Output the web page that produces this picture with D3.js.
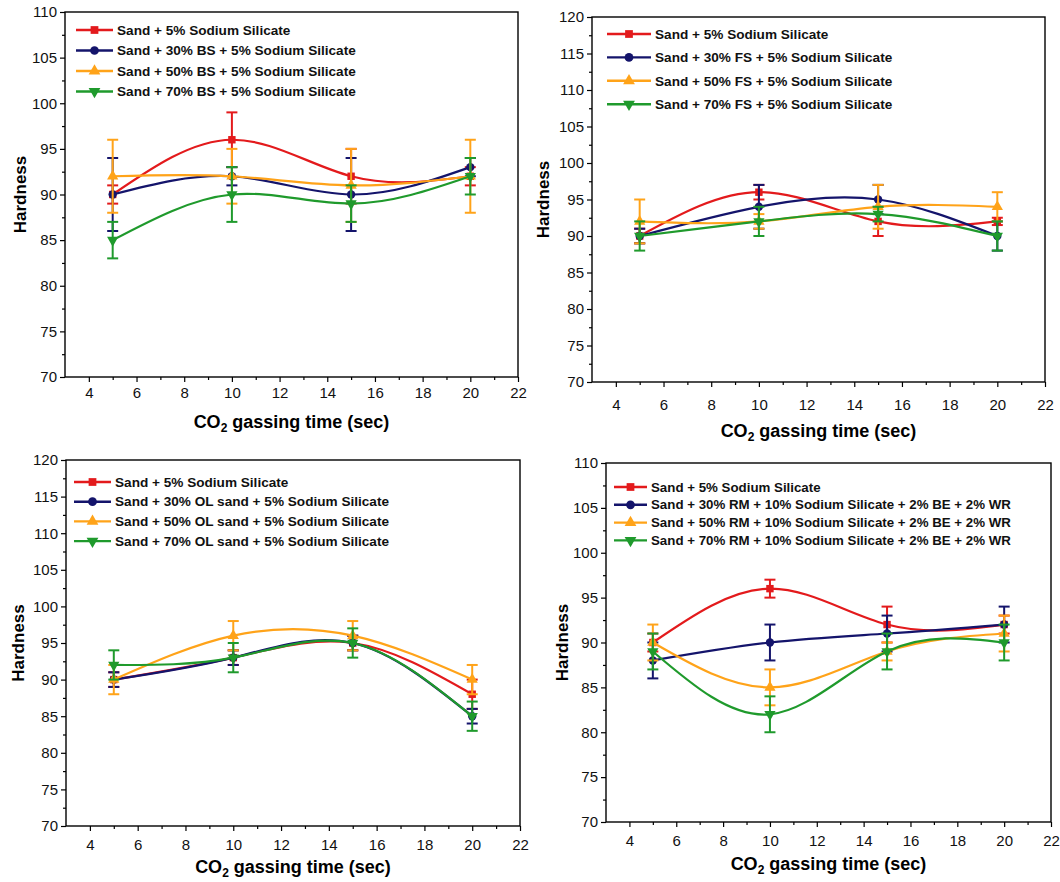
<!DOCTYPE html>
<html lang="en">
<head>
    <meta charset="UTF-8">
    <title>Hardness vs CO2 gassing time</title>
    <script src="https://d3js.org/d3.v7.min.js"></script>
    <style>
        body { margin: 0; background: #fff; }
        svg { font-family: "Liberation Sans", Arial, sans-serif; }
        .tick text { font-size: 15px; }
    </style>
</head>
<body>
    <svg id="chart" width="1060" height="882"></svg>

    <script>
        // gassing times (sec)
        const times = [5, 10, 15, 20];

        // series colours / markers (red, blue, orange, green)
        const colors = ["#e31a1c", "#14146b", "#ffa319", "#1f9a2c"];
        const markers = ["square", "circle", "triangleUp", "triangleDown"];

        // BS panel
        const bsLegend = ["Sand + 5% Sodium Silicate", "Sand + 30% BS + 5% Sodium Silicate",
            "Sand + 50% BS + 5% Sodium Silicate", "Sand + 70% BS + 5% Sodium Silicate"];
        const bsHardness = [[90, 96, 92, 92], [90, 92, 90, 93], [92, 92, 91, 92], [85, 90, 89, 92]];
        const bsError = [[1, 3, 3, 1], [4, 1, 4, 1], [4, 3, 4, 4], [2, 3, 2, 2]];

        // FS panel
        const fsLegend = ["Sand + 5% Sodium Silicate", "Sand + 30% FS + 5% Sodium Silicate",
            "Sand + 50% FS + 5% Sodium Silicate", "Sand + 70% FS + 5% Sodium Silicate"];
        const fsHardness = [[90, 96, 92, 92], [90, 94, 95, 90], [92, 92, 94, 94], [90, 92, 93, 90]];
        const fsError = [[1, 1, 2, 0.5], [1, 3, 2, 2], [3, 1, 3, 2], [2, 2, 1, 2]];

        // OL sand panel
        const olLegend = ["Sand + 5% Sodium Silicate", "Sand + 30% OL sand + 5% Sodium Silicate",
            "Sand + 50% OL sand + 5% Sodium Silicate", "Sand + 70% OL sand + 5% Sodium Silicate"];
        const olHardness = [[90, 93, 95, 88], [90, 93, 95, 85], [90, 96, 96, 90], [92, 93, 95, 85]];
        const olError = [[1, 1, 1, 2], [1, 1, 1, 1], [2, 2, 2, 2], [2, 2, 2, 2]];

        // RM panel
        const rmLegend = ["Sand + 5% Sodium Silicate",
            "Sand + 30% RM + 10% Sodium Silicate + 2% BE + 2% WR",
            "Sand + 50% RM + 10% Sodium Silicate + 2% BE + 2% WR",
            "Sand + 70% RM + 10% Sodium Silicate + 2% BE + 2% WR"];
        const rmHardness = [[90, 96, 92, 92], [88, 90, 91, 92], [90, 85, 89, 91], [89, 82, 89, 90]];
        const rmError = [[1, 1, 2, 1], [2, 2, 2, 2], [2, 2, 1, 2], [2, 2, 2, 2]];

        const xTicks = d3.range(4, 23, 2);
        const xMinor = d3.range(5, 22, 2);

        const svg = d3.select("#chart");

        const symbolFor = {
            square: d3.symbolSquare,
            circle: d3.symbolCircle,
            triangleUp: d3.symbolTriangle,
            triangleDown: d3.symbolTriangle
        };

        function marker(g, type, x, y, color, size) {
            g.append("path")
                .attr("d", d3.symbol().type(symbolFor[type]).size(size)())
                .attr("transform", "translate(" + x + "," + y + ")" + (type === "triangleDown" ? " rotate(180)" : ""))
                .attr("fill", color);
        }

        function panel(cfg) {
            const g = svg.append("g");
            const x = d3.scaleLinear().domain([3, 22]).range([cfg.left, cfg.right]);
            const y = d3.scaleLinear().domain([70, cfg.yMax]).range([cfg.bottom, cfg.top]);
            const yMajor = d3.range(70, cfg.yMax + 1, 5);
            const yMinor = d3.range(72.5, cfg.yMax, 5);

            // axes
            g.append("g").attr("transform", "translate(0," + cfg.bottom + ")")
                .call(d3.axisBottom(x).tickValues(xMinor).tickFormat("").tickSize(3).tickSizeOuter(0));
            g.append("g").attr("transform", "translate(0," + cfg.bottom + ")")
                .call(d3.axisBottom(x).tickValues(xTicks).tickSize(5).tickPadding(cfg.xPad).tickSizeOuter(0));
            g.append("g").attr("transform", "translate(" + cfg.left + ",0)")
                .call(d3.axisLeft(y).tickValues(yMinor).tickFormat("").tickSize(3).tickSizeOuter(0));
            g.append("g").attr("transform", "translate(" + cfg.left + ",0)")
                .call(d3.axisLeft(y).tickValues(yMajor).tickSize(5).tickPadding(3).tickSizeOuter(0));
            g.selectAll(".domain").remove();
            g.selectAll(".tick line").attr("stroke", "#000").attr("stroke-width", 1.2);
            g.selectAll(".tick text").attr("fill", "#111");

            // frame
            g.append("rect")
                .attr("x", cfg.left).attr("y", cfg.top)
                .attr("width", cfg.right - cfg.left).attr("height", cfg.bottom - cfg.top)
                .attr("fill", "none").attr("stroke", "#000").attr("stroke-width", 1.4);

            // titles
            g.append("text")
                .attr("transform", "translate(" + cfg.yTitleX + "," + (cfg.top + cfg.bottom) / 2 + ") rotate(-90)")
                .attr("text-anchor", "middle").attr("dy", "0.35em")
                .attr("font-size", 17).attr("font-weight", "bold")
                .text("Hardness");
            const xt = g.append("text")
                .attr("x", (cfg.left + cfg.right) / 2).attr("y", cfg.xTitleY)
                .attr("text-anchor", "middle")
                .attr("font-size", 18).attr("font-weight", "bold");
            xt.append("tspan").text("CO");
            xt.append("tspan").attr("font-size", 12).attr("dy", 4).text("2");
            xt.append("tspan").attr("dy", -4).text(" gassing time (sec)");

            // series
            const line = d3.line()
                .x((d, i) => x(times[i]))
                .y(d => y(d))
                .curve(d3.curveNatural);

            cfg.values.forEach((vals, s) => {
                const c = colors[s];
                const sg = g.append("g");
                vals.forEach((v, i) => {
                    const e = cfg.errors[s][i];
                    const px = x(times[i]);
                    sg.append("line").attr("x1", px).attr("x2", px)
                        .attr("y1", y(v - e)).attr("y2", y(v + e))
                        .attr("stroke", c).attr("stroke-width", 2);
                    [v - e, v + e].forEach(b => {
                        sg.append("line").attr("x1", px - 5.5).attr("x2", px + 5.5)
                            .attr("y1", y(b)).attr("y2", y(b))
                            .attr("stroke", c).attr("stroke-width", 2);
                    });
                });
                sg.append("path").datum(vals)
                    .attr("d", line)
                    .attr("fill", "none").attr("stroke", c).attr("stroke-width", 2.2);
                vals.forEach((v, i) => marker(sg, markers[s], x(times[i]), y(v), c, 55));
            });

            // legend
            cfg.legend.forEach((name, s) => {
                const ly = cfg.legY + s * cfg.legStep;
                g.append("line")
                    .attr("x1", cfg.legX).attr("x2", cfg.legX + cfg.legLen)
                    .attr("y1", ly).attr("y2", ly)
                    .attr("stroke", colors[s]).attr("stroke-width", 2.4);
                marker(g, markers[s], cfg.legX + cfg.legLen / 2, ly, colors[s], 60);
                g.append("text")
                    .attr("x", cfg.legX + cfg.legLen + 4).attr("y", ly).attr("dy", "0.35em")
                    .attr("font-size", cfg.legFont).attr("font-weight", "bold").attr("fill", "#111")
                    .text(name);
            });
        }

        panel({ left: 65, right: 518, top: 12, bottom: 377, yMax: 110, xPad: 5, xTitleY: 428, yTitleX: 20,
            values: bsHardness, errors: bsError, legend: bsLegend,
            legX: 76, legLen: 37, legY: 30, legStep: 20.5, legFont: 13.6 });

        panel({ left: 592, right: 1045, top: 17, bottom: 382, yMax: 120, xPad: 12, xTitleY: 437, yTitleX: 543,
            values: fsHardness, errors: fsError, legend: fsLegend,
            legX: 607, legLen: 44, legY: 34, legStep: 23.4, legFont: 13.6 });

        panel({ left: 66, right: 520, top: 460, bottom: 826, yMax: 120, xPad: 8, xTitleY: 873, yTitleX: 18,
            values: olHardness, errors: olError, legend: olLegend,
            legX: 74, legLen: 37, legY: 482, legStep: 19.7, legFont: 13.6 });

        panel({ left: 606, right: 1051, top: 463, bottom: 822, yMax: 110, xPad: 8, xTitleY: 870, yTitleX: 562,
            values: rmHardness, errors: rmError, legend: rmLegend,
            legX: 614, legLen: 33, legY: 487, legStep: 17.8, legFont: 13.3 });
    </script>
</body>
</html>
